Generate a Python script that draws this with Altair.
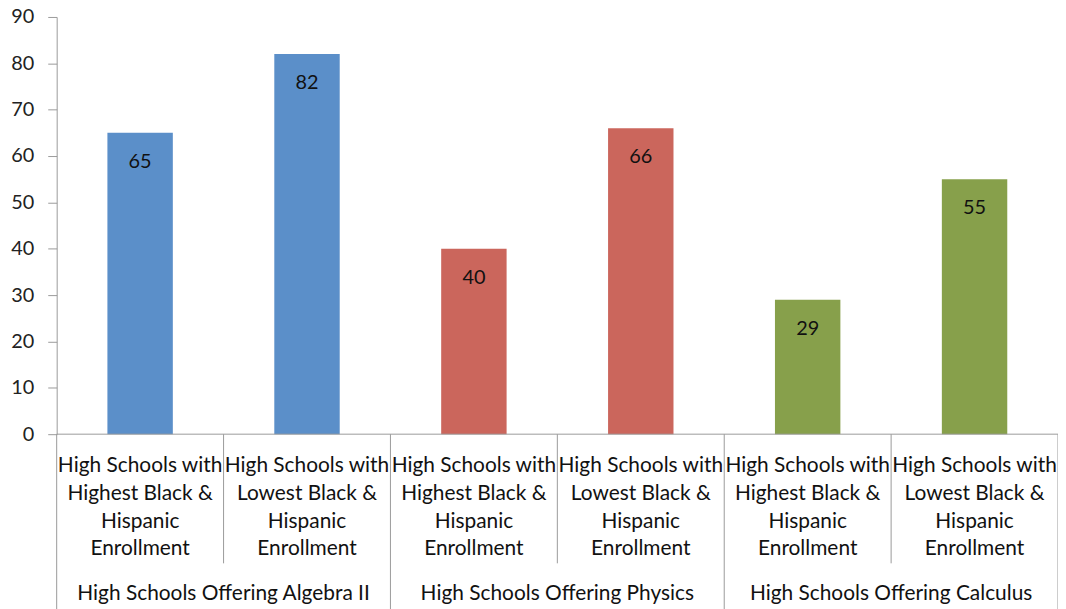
import altair as alt
import pandas as pd

groups = ["High Schools Offering Algebra II", "High Schools Offering Physics", "High Schools Offering Calculus"]
subcats = [["High Schools with", "Highest Black &", "Hispanic", "Enrollment"],
           ["High Schools with", "Lowest Black &", "Hispanic", "Enrollment"]]
values = [65, 82, 40, 66, 29, 55]
colors = ["#5B8FC9", "#CB665C", "#87A04B"]

rows = []
for i, v in enumerate(values):
    g = i // 2
    rows.append({"idx": i, "center": i + 0.5, "x0": i + 0.5 - 0.196, "x1": i + 0.5 + 0.196,
                 "value": v, "group": groups[g], "color": colors[g],
                 "label": subcats[i % 2]})
df = pd.DataFrame(rows)

grp_df = pd.DataFrame({"center": [1, 3, 5], "group": groups})
short_df = pd.DataFrame({"pos": [1, 3, 5]})
long_df = pd.DataFrame({"pos": [0, 2, 4, 6]})
base_df = pd.DataFrame({"a": [0], "b": [6], "y": [0]})

FONT = "Lato"
FS = 21
H = 420
xs = alt.Scale(domain=[0, 6], nice=False, zero=False)
ys = alt.Scale(domain=[0, 90], nice=False)
yaxis = alt.Axis(values=list(range(0, 91, 10)), grid=False, orient="left",
                 domainColor="#9a9a9a", tickColor="#9a9a9a",
                 tickSize=9, labelFontSize=20, labelFont=FONT,
                 labelColor="#222", labelPadding=14, title=None)


def X(field):
    return alt.X(field, scale=xs, axis=None)


def Y(field):
    return alt.Y(field, scale=ys, axis=yaxis)


bars = alt.Chart(df).mark_rect().encode(
    x=X("x0:Q"),
    x2="x1:Q",
    y=Y("value:Q"),
    y2=alt.datum(0),
    color=alt.Color("color:N", scale=None),
)

vlabels = alt.Chart(df).mark_text(font=FONT, fontSize=20, color="#111", baseline="middle", dy=29).encode(
    x=X("center:Q"), y=Y("value:Q"), text="value:Q")

baseline = alt.Chart(base_df).mark_rule(color="#9a9a9a", strokeWidth=1).encode(
    x=X("a:Q"), x2="b:Q", y=Y("y:Q"))

short_rules = alt.Chart(short_df).mark_rule(color="#9a9a9a", strokeWidth=1).encode(
    x=X("pos:Q"), y=alt.value(H), y2=alt.value(H + 130))
long_rules = alt.Chart(long_df).mark_rule(color="#9a9a9a", strokeWidth=1).encode(
    x=X("pos:Q"), y=alt.value(H), y2=alt.value(H + 185))

cat_text = alt.Chart(df).mark_text(font=FONT, fontSize=FS, color="#111", baseline="middle",
                                   lineHeight=28, align="center").encode(
    x=X("center:Q"), y=alt.value(H + 32), text="label")

grp_text = alt.Chart(grp_df).mark_text(font=FONT, fontSize=FS, color="#111", baseline="middle").encode(
    x=X("center:Q"), y=alt.value(H + 161), text="group:N")

chart = alt.layer(bars, vlabels, baseline, short_rules, long_rules, cat_text, grp_text).properties(
    width=1008, height=H, autosize=alt.AutoSizeParams(type="none"),
    padding={"left": 49, "top": 7, "right": 0, "bottom": 180},
    background="white",
).configure_view(strokeWidth=0, stroke="transparent")

chart.save("out.html", embed_options={"renderer": "svg", "actions": False})
